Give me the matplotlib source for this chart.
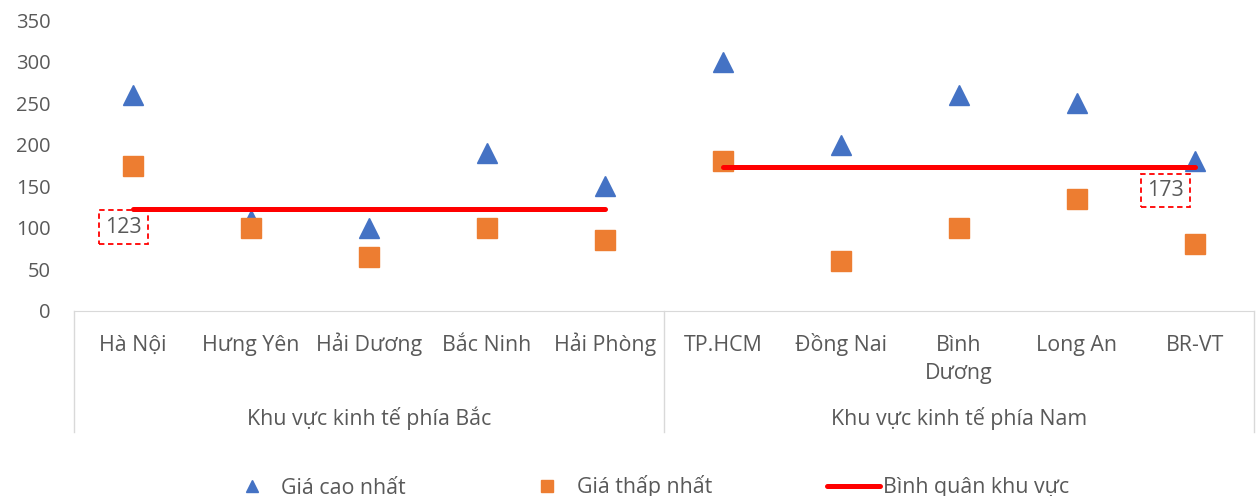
import matplotlib.pyplot as plt
import matplotlib.transforms as mtransforms

plt.rcParams['font.family'] = ['Open Sans', 'DejaVu Sans']

# Data
provinces = ['Hà Nội', 'Hưng Yên', 'Hải Dương', 'Bắc Ninh', 'Hải Phòng',
             'TP.HCM', 'Đồng Nai', 'Bình\nDương', 'Long An', 'BR-VT']
regions = ['Khu vực kinh tế phía Bắc', 'Khu vực kinh tế phía Nam']
price_high = [260, 110, 100, 190, 150, 300, 200, 260, 250, 180]
price_low = [175, 100, 65, 100, 85, 180, 60, 100, 135, 80]
region_avg = [123, 173]
region_size = [5, 5]

text_col = '#595959'
fs = 15.4
fig = plt.figure(figsize=(12.59, 4.96), dpi=100)
ax = fig.add_axes([74 / 1259, (496 - 311) / 496, (1254 - 74) / 1259, (311 - 20) / 496])

x = list(range(len(provinces)))
ax.plot(x, price_high, linestyle='none', marker='^', markersize=15,
        color='#4472c4', label='Giá cao nhất', zorder=3)
ax.plot(x, price_low, linestyle='none', marker='s', markersize=14,
        color='#ed7d31', label='Giá thấp nhất', zorder=4)

start = 0
for i, (avg, n) in enumerate(zip(region_avg, region_size)):
    ax.plot([start, start + n - 1], [avg, avg], color='#ff0000', linewidth=3.6,
            solid_capstyle='round', zorder=5,
            label='Bình quân khu vực' if i == 0 else None)
    start += n

box = dict(boxstyle='square,pad=0.3', fc='none', ec='#ff0000', ls=(0, (3, 2)), lw=1.3)
ax.text(-0.08, 101, str(region_avg[0]), ha='center', va='center', fontsize=fs,
        color=text_col, bbox=box, zorder=6)
ax.text(8.75, 145, str(region_avg[1]), ha='center', va='center', fontsize=fs,
        color=text_col, bbox=box, zorder=6)

ax.set_xlim(-0.5, len(provinces) - 0.5)
ax.set_ylim(0, 350)
ax.set_yticks(range(0, 351, 50))
ax.set_xticks([])
ax.tick_params(axis='y', length=0, labelsize=14.5, colors=text_col, pad=17)
for side in ['top', 'right', 'left']:
    ax.spines[side].set_visible(False)
ax.spines['bottom'].set_color('#d9d9d9')

# category labels drawn on a common baseline
trans = mtransforms.blended_transform_factory(ax.transData, ax.transAxes)
for xi, name in zip(x, provinces):
    for k, line in enumerate(name.split('\n')):
        ax.text(xi, -(351 - 311 + 28 * k) / 291, line, transform=trans, ha='center',
                va='baseline', fontsize=fs, color=text_col)

# group separators and region labels
y_low = -(432 - 311) / 291
bounds = [-0.5]
for n in region_size:
    bounds.append(bounds[-1] + n)
for b in bounds:
    ax.plot([b, b], [0, y_low], color='#d9d9d9', linewidth=1, transform=trans, clip_on=False)
for i, name in enumerate(regions):
    mid = (bounds[i] + bounds[i + 1]) / 2
    ax.text(mid, -(425 - 311) / 291, name, transform=trans, ha='center', va='baseline',
            fontsize=fs, color=text_col)

fig.legend(loc='center', bbox_to_anchor=(0.514, 1 - 487 / 496), ncol=3, frameon=False,
           fontsize=fs, labelcolor=text_col, handlelength=2.48, handletextpad=0.15,
           columnspacing=5.36, markerscale=0.6)

fig.savefig('out.png', dpi=100)
